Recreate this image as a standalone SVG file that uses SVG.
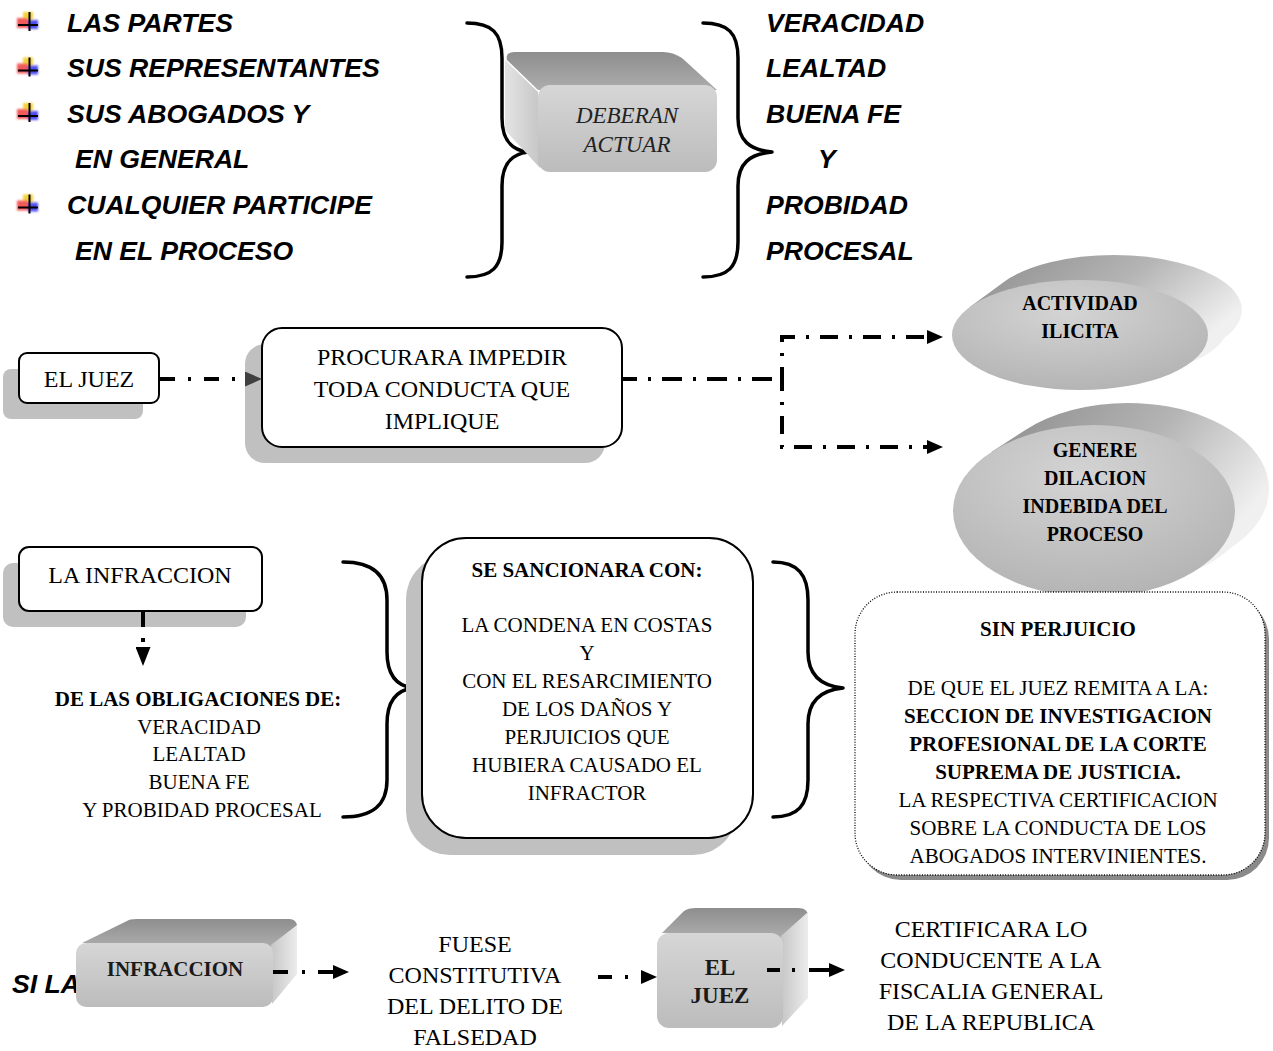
<svg xmlns="http://www.w3.org/2000/svg" width="1273" height="1051" viewBox="0 0 1273 1051">
  <defs>
    <style>
      .hd { font-family: "Liberation Sans", Arial, sans-serif; font-weight: bold; font-style: italic; font-size: 26.6px; fill: #000; }
      .tm { font-family: "Liberation Serif", "Times New Roman", serif; text-anchor: middle; fill: #000; }
      .t24 { font-size: 24px; }
      .t21 { font-size: 21px; }
      .b { font-weight: bold; }
      .box { fill: #fff; stroke: #000; stroke-width: 2; }
      .shadow { fill: #c0c0c0; }
      .brace { fill: none; stroke: #000; stroke-width: 3.5; stroke-linecap: round; stroke-linejoin: round; }
      .link { fill: none; stroke: #000; stroke-width: 4; }
      .front3d { fill: url(#gFront); }
      .top3d { fill: url(#gTop); }
      .side3d { fill: url(#gSide); }
      .cylSide { fill: url(#gCylSide); }
      .cylFront { fill: url(#gCylFront); }
    </style>
    <linearGradient id="gFront" x1="0" y1="0" x2="0" y2="1">
      <stop offset="0" stop-color="#d6d6d6"/>
      <stop offset="1" stop-color="#bcbcbc"/>
    </linearGradient>
    <linearGradient id="gTop" x1="0" y1="0" x2="0" y2="1">
      <stop offset="0" stop-color="#8e8e8e"/>
      <stop offset="1" stop-color="#adadad"/>
    </linearGradient>
    <linearGradient id="gSide" x1="0" y1="0" x2="1" y2="0">
      <stop offset="0" stop-color="#c6c6c6"/>
      <stop offset="1" stop-color="#ececec"/>
    </linearGradient>
    <linearGradient id="gSideL" x1="1" y1="0" x2="0" y2="0">
      <stop offset="0" stop-color="#c6c6c6"/>
      <stop offset="1" stop-color="#e4e4e4"/>
    </linearGradient>
    <linearGradient id="gCylSide" x1="0" y1="0" x2="1" y2="0.5">
      <stop offset="0" stop-color="#8c8c8c"/>
      <stop offset="0.55" stop-color="#b4b4b4"/>
      <stop offset="1" stop-color="#f0f0f0"/>
    </linearGradient>
    <radialGradient id="gCylFront" cx="0.45" cy="0.3" r="0.75">
      <stop offset="0" stop-color="#d4d4d4"/>
      <stop offset="1" stop-color="#b2b2b2"/>
    </radialGradient>
    <filter id="soft" x="-20%" y="-20%" width="140%" height="140%">
      <feGaussianBlur stdDeviation="1"/>
    </filter>
    <marker id="arrGray" markerUnits="userSpaceOnUse" markerWidth="17" markerHeight="15" refX="0" refY="7.5" orient="auto">
      <path d="M0,0 L17,7.5 L0,15 Z" fill="#404040"/>
    </marker>
    <marker id="arrBlack" markerUnits="userSpaceOnUse" markerWidth="16" markerHeight="14" refX="0" refY="7" orient="auto">
      <path d="M0,0 L16,7 L0,14 Z" fill="#000"/>
    </marker>
    <marker id="arrTall" markerUnits="userSpaceOnUse" markerWidth="19" markerHeight="15" refX="0" refY="7.5" orient="auto">
      <path d="M0,0 L19,7.5 L0,15 Z" fill="#000"/>
    </marker>
    <g id="bullet">
      <g filter="url(#soft)">
        <rect x="23" y="12" width="10" height="11" fill="#f4d23c"/>
        <rect x="17" y="18" width="11" height="10" fill="#f25a5a"/>
        <rect x="28" y="20" width="10" height="9" fill="#4f4ff0"/>
      </g>
      <path d="M29.5,12 V31 M18,25 H38" stroke="#000" stroke-width="2"/>
    </g>
  </defs>

  <rect width="1273" height="1051" fill="#fff"/>

  <!-- who must act -->
  <g id="actors">
    <use href="#bullet"/>
    <use href="#bullet" transform="translate(0,45.5)"/>
    <use href="#bullet" transform="translate(0,91)"/>
    <use href="#bullet" transform="translate(0,182.5)"/>
    <text class="hd" x="67" y="31.5">LAS PARTES</text>
    <text class="hd" x="67" y="77">SUS REPRESENTANTES</text>
    <text class="hd" x="67" y="122.5">SUS ABOGADOS Y</text>
    <text class="hd" x="75" y="168">EN GENERAL</text>
    <text class="hd" x="67" y="214">CUALQUIER PARTICIPE</text>
    <text class="hd" x="75" y="259.5">EN EL PROCESO</text>
  </g>

  <g id="brace-actors">
    <path class="brace" d="M467,23 C492,23 502,33 502,58 L502,118 C502,141 512,150 528,152 C512,154 502,163 502,186 L502,242 C502,267 492,277 467,277"/>
  </g>

  <!-- extruded box "DEBERAN ACTUAR" -->
  <g id="deberan">
    <path class="top3d" d="M515,52 L663,52 Q673,52 682,58 L717,90 L538,90 L507,60 Q505,52 515,52 Z"/>
    <path fill="url(#gSideL)" d="M505,60 L538,92 L540,168 L505,130 Z"/>
    <rect class="front3d" x="538" y="85" width="179" height="87" rx="12"/>
    <text class="tm" x="627" y="123" style="font-size:23px;font-style:italic;fill:#222">DEBERAN</text>
    <text class="tm" x="627" y="152" style="font-size:23px;font-style:italic;fill:#222">ACTUAR</text>
  </g>

  <g id="brace-values">
    <path class="brace" d="M703,23 C728,23 738,33 738,58 L738,118 C738,141 750,150 772,152 C750,154 738,163 738,186 L738,242 C738,267 728,277 703,277"/>
  </g>

  <g id="values">
    <text class="hd" x="766" y="31.5">VERACIDAD</text>
    <text class="hd" x="766" y="77">LEALTAD</text>
    <text class="hd" x="766" y="122.5">BUENA FE</text>
    <text class="hd" x="818" y="168">Y</text>
    <text class="hd" x="766" y="214">PROBIDAD</text>
    <text class="hd" x="766" y="259.5">PROCESAL</text>
  </g>

  <!-- judge row -->
  <g id="el-juez">
    <rect class="shadow" x="3" y="369" width="140" height="50" rx="8"/>
    <rect class="box" x="19" y="353" width="140" height="50" rx="8"/>
    <text class="tm t24" x="89" y="387">EL JUEZ</text>
  </g>

  <g id="procurara">
    <rect class="shadow" x="245" y="344" width="360" height="119" rx="20"/>
    <rect class="box" x="262" y="328" width="360" height="119" rx="20"/>
    <text class="tm t24" x="442" y="365">PROCURARA IMPEDIR</text>
    <text class="tm t24" x="442" y="397">TODA CONDUCTA QUE</text>
    <text class="tm t24" x="442" y="429">IMPLIQUE</text>
  </g>

  <g id="actividad-ilicita">
    <path class="cylSide" d="M969.5,307.3 L1003.5,282.3 A128,55 0 0 1 1114,255 A128,55 0 0 1 1224.5,337.7 A128,55 0 0 1 1190.5,362.7 Z"/>
    <ellipse class="cylFront" cx="1080" cy="335" rx="128" ry="55"/>
    <text class="tm b" x="1080" y="310" style="font-size:20px">ACTIVIDAD</text>
    <text class="tm b" x="1080" y="338" style="font-size:20px">ILICITA</text>
  </g>

  <g id="dilacion">
    <path class="cylSide" d="M991.4,452 L1025.4,430 A141,86 0 0 1 1128,403 A141,86 0 0 1 1230.6,548 A141,86 0 0 1 1196.6,570 Z"/>
    <ellipse class="cylFront" cx="1094" cy="511" rx="141" ry="86"/>
    <text class="tm b" x="1095" y="457" style="font-size:20px">GENERE</text>
    <text class="tm b" x="1095" y="485" style="font-size:20px">DILACION</text>
    <text class="tm b" x="1095" y="513" style="font-size:20px">INDEBIDA DEL</text>
    <text class="tm b" x="1095" y="541" style="font-size:20px">PROCESO</text>
  </g>

  <!-- infraction row -->
  <g id="la-infraccion">
    <rect class="shadow" x="3" y="563" width="243" height="64" rx="10"/>
    <rect class="box" x="19" y="547" width="243" height="64" rx="10"/>
    <text class="tm t24" x="140" y="583">LA INFRACCION</text>
  </g>

  <g id="obligaciones">
    <text class="tm t21 b" x="198" y="706">DE LAS OBLIGACIONES DE:</text>
    <text class="tm t21" x="199" y="734">VERACIDAD</text>
    <text class="tm t21" x="199" y="761">LEALTAD</text>
    <text class="tm t21" x="199" y="789">BUENA FE</text>
    <text class="tm t21" x="202" y="817">Y PROBIDAD PROCESAL</text>
  </g>

  <g id="brace-obligaciones">
    <path class="brace" d="M343,562 C373,562 387,575 387,600 L387,652 C387,676 397,686 413,688 C397,690 387,700 387,724 L387,780 C387,805 373,817 343,817"/>
  </g>

  <g id="sancion">
    <rect class="shadow" x="406" y="555" width="331" height="300" rx="44"/>
    <rect class="box" x="422" y="538" width="331" height="300" rx="44"/>
    <text class="tm t21 b" x="587" y="577">SE SANCIONARA CON:</text>
    <text class="tm t21" x="587" y="632">LA CONDENA EN COSTAS</text>
    <text class="tm t21" x="587" y="660">Y</text>
    <text class="tm t21" x="587" y="688">CON EL RESARCIMIENTO</text>
    <text class="tm t21" x="587" y="716">DE LOS DAÑOS Y</text>
    <text class="tm t21" x="587" y="744">PERJUICIOS QUE</text>
    <text class="tm t21" x="587" y="772">HUBIERA CAUSADO EL</text>
    <text class="tm t21" x="587" y="800">INFRACTOR</text>
  </g>

  <g id="brace-sancion">
    <path class="brace" d="M773,562 C798,562 808,575 808,600 L808,652 C808,676 822,686 843,688 C822,690 808,700 808,724 L808,780 C808,805 798,817 773,817"/>
  </g>

  <g id="sin-perjuicio">
    <rect x="859" y="597" width="410" height="283" rx="42" fill="#8a8a8a"/>
    <rect x="855" y="592" width="410" height="283" rx="42" fill="#fff" stroke="#000" stroke-width="1.3" stroke-dasharray="1 1.6"/>
    <text class="tm t21 b" x="1058" y="636">SIN PERJUICIO</text>
    <text class="tm t21" x="1058" y="695">DE QUE EL JUEZ REMITA A LA:</text>
    <text class="tm t21 b" x="1058" y="723">SECCION DE INVESTIGACION</text>
    <text class="tm t21 b" x="1058" y="751">PROFESIONAL DE LA CORTE</text>
    <text class="tm t21 b" x="1058" y="779">SUPREMA DE JUSTICIA.</text>
    <text class="tm t21" x="1058" y="807">LA RESPECTIVA CERTIFICACION</text>
    <text class="tm t21" x="1058" y="835">SOBRE LA CONDUCTA DE LOS</text>
    <text class="tm t21" x="1058" y="863">ABOGADOS INTERVINIENTES.</text>
  </g>

  <!-- falsity row: the lead-in text sits behind the extruded box -->
  <g id="si-la">
    <text class="hd" x="12" y="993">SI LA</text>
  </g>

  <g id="infraccion">
    <path class="top3d" d="M82,943 L127,921 Q129,919 137,919 L289,919 Q297,919 297,927 L273,947 Z"/>
    <path class="side3d" d="M271,945 L297,925 L297,974 L272,1004 Z"/>
    <rect class="front3d" x="76" y="943" width="197" height="64" rx="10"/>
    <text class="tm b" x="175" y="976" style="font-size:21px;fill:#1a1a1a">INFRACCION</text>
  </g>

  <g id="falsedad">
    <text class="tm t24" x="475" y="952">FUESE</text>
    <text class="tm t24" x="475" y="983">CONSTITUTIVA</text>
    <text class="tm t24" x="475" y="1014">DEL DELITO DE</text>
    <text class="tm t24" x="475" y="1045">FALSEDAD</text>
  </g>

  <g id="el-juez-2">
    <path class="top3d" d="M662,933 L684,911 Q688,908 696,908 L798,908 Q808,908 808,916 L783,938 Z"/>
    <path class="side3d" d="M781,936 L808,912 L808,998 L782,1026 Z"/>
    <rect class="front3d" x="657" y="933" width="126" height="95" rx="12"/>
    <text class="tm b" x="720" y="975" style="font-size:23px;fill:#1a1a1a">EL</text>
    <text class="tm b" x="720" y="1003" style="font-size:23px;fill:#1a1a1a">JUEZ</text>
  </g>

  <g id="fiscalia">
    <text class="tm t24" x="991" y="937">CERTIFICARA LO</text>
    <text class="tm t24" x="991" y="968">CONDUCENTE A LA</text>
    <text class="tm t24" x="991" y="999">FISCALIA GENERAL</text>
    <text class="tm t24" x="991" y="1030">DE LA REPUBLICA</text>
  </g>

  <!-- connectors -->
  <g id="connectors">
    <path class="link" d="M160,379 H245" stroke-dasharray="15 13 3 13" marker-end="url(#arrGray)"/>
    <path class="link" d="M622,379 H782" stroke-dasharray="20 11 3 11" stroke-dashoffset="5"/>
    <path class="link" d="M782,379 V337 H927" stroke-width="3.5" stroke-dasharray="18 11 3 11" stroke-dashoffset="6" marker-end="url(#arrBlack)"/>
    <path class="link" d="M782,379 V447 H927" stroke-width="3.5" stroke-dasharray="18 11 3 11" stroke-dashoffset="6" marker-end="url(#arrBlack)"/>
    <path class="link" d="M143,611 V647" stroke-dasharray="16 11 4 20" marker-end="url(#arrTall)"/>
    <path class="link" d="M273,972 H333" stroke-dasharray="15 14 3 13 20" marker-end="url(#arrBlack)"/>
    <path class="link" d="M598,977 H641" stroke-dasharray="14 13 3 20" marker-end="url(#arrBlack)"/>
    <path class="link" d="M767,970 H829" stroke-dasharray="13 12 3 14 30" marker-end="url(#arrBlack)"/>
  </g>
</svg>
